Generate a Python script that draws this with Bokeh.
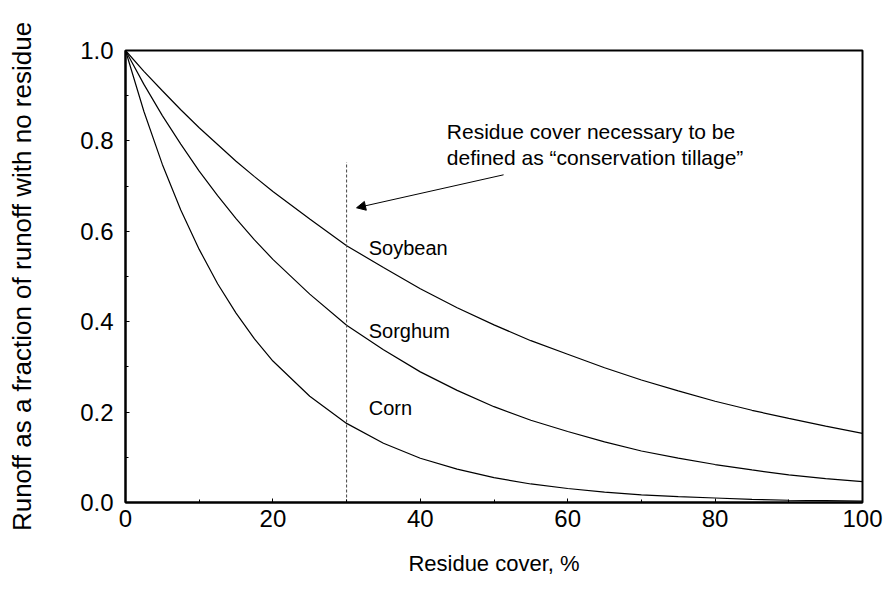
from bokeh.plotting import figure
from bokeh.models import Range1d, Arrow, NormalHead, FixedTicker, CustomJSTickFormatter
from bokeh.core.properties import value
from bokeh.embed import file_html
from bokeh.resources import INLINE

residue_cover = [0, 2.5, 5, 7.5, 10, 12.5, 15, 17.5, 20, 25, 30, 35, 40, 45, 50,
                 55, 60, 65, 70, 75, 80, 85, 90, 95, 100]
soybean = [1.0, 0.954, 0.911, 0.869, 0.829, 0.792, 0.755, 0.721, 0.688, 0.627, 0.568,
           0.520, 0.473, 0.431, 0.393, 0.358, 0.328, 0.298, 0.271, 0.247, 0.224,
           0.204, 0.186, 0.169, 0.153]
sorghum = [1.0, 0.925, 0.856, 0.793, 0.733, 0.679, 0.628, 0.581, 0.538, 0.461, 0.392,
           0.338, 0.289, 0.248, 0.212, 0.182, 0.157, 0.134, 0.114, 0.098, 0.084,
           0.072, 0.061, 0.053, 0.046]
corn = [1.0, 0.865, 0.748, 0.647, 0.560, 0.484, 0.419, 0.362, 0.313, 0.235, 0.175,
        0.131, 0.098, 0.074, 0.055, 0.041, 0.031, 0.023, 0.017, 0.013, 0.010,
        0.007, 0.005, 0.004, 0.003]

crop_names = ["Soybean", "Sorghum", "Corn"]
crop_label_x = [33.0, 33.0, 33.0]
crop_label_y = [0.562, 0.379, 0.209]

conservation_threshold = 30
x_ticks = [0, 20, 40, 60, 80, 100]
y_ticks = [0.0, 0.2, 0.4, 0.6, 0.8, 1.0]

FONT = "Liberation Sans"

p = figure(width=888, height=598, output_backend="svg", toolbar_location=None,
           x_range=Range1d(0, 100), y_range=Range1d(0, 1.0),
           min_border_left=125, min_border_right=26, min_border_top=50, min_border_bottom=96)

p.background_fill_color = "white"
p.border_fill_color = "white"
p.grid.visible = False
p.outline_line_color = "black"
p.outline_line_width = 2

for ax in (p.xaxis[0], p.yaxis[0]):
    ax.axis_line_color = "black"
    ax.axis_line_width = 2
    ax.major_tick_in = 4
    ax.major_tick_out = 0
    ax.minor_tick_in = 3
    ax.minor_tick_out = 0
    ax.major_tick_line_color = "black"
    ax.minor_tick_line_color = "black"
    ax.major_label_text_font = FONT
    ax.major_label_text_font_size = "24px"
    ax.major_label_text_color = "black"
    ax.axis_label_text_font = FONT
    ax.axis_label_text_font_style = "normal"
    ax.axis_label_text_color = "black"

p.xaxis.ticker = FixedTicker(ticks=x_ticks, minor_ticks=list(range(0, 101, 10)))
p.yaxis.ticker = FixedTicker(ticks=y_ticks, minor_ticks=[i / 10 for i in range(11)])
p.yaxis.formatter = CustomJSTickFormatter(code="return tick.toFixed(1);")

p.xaxis.axis_label = "Residue cover, %"
p.yaxis.axis_label = "Runoff as a fraction of runoff with no residue"
p.xaxis.axis_label_text_font_size = "22px"
p.yaxis.axis_label_text_font_size = "26px"
p.xaxis.major_label_standoff = 7
p.yaxis.major_label_standoff = 12
p.xaxis.axis_label_standoff = 21
p.yaxis.axis_label_standoff = 40

for ys in (soybean, sorghum, corn):
    p.line(residue_cover, ys, line_color="black", line_width=1.2)

p.segment(x0=[conservation_threshold], y0=[0], x1=[conservation_threshold], y1=[0.753],
          line_color="#444444", line_width=1, line_dash="3 2")

p.add_layout(Arrow(end=NormalHead(size=9, fill_color="black", line_color="black"),
                   x_start=51.3, y_start=0.725, x_end=31.35, y_end=0.652,
                   line_color="black", line_width=1))

p.text(x=crop_label_x, y=crop_label_y, text=crop_names,
       text_font=value(FONT), text_font_size="20px", text_color="black",
       text_baseline="alphabetic", text_align="left")

p.text(x=[43.6, 43.6], y=[0.821, 0.764],
       text=["Residue cover necessary to be", "defined as \u201cconservation tillage\u201d"],
       text_font=value(FONT), text_font_size="21px", text_color="black",
       text_baseline="alphabetic", text_align="left")

open("out.html", "w").write(file_html(p, INLINE))
